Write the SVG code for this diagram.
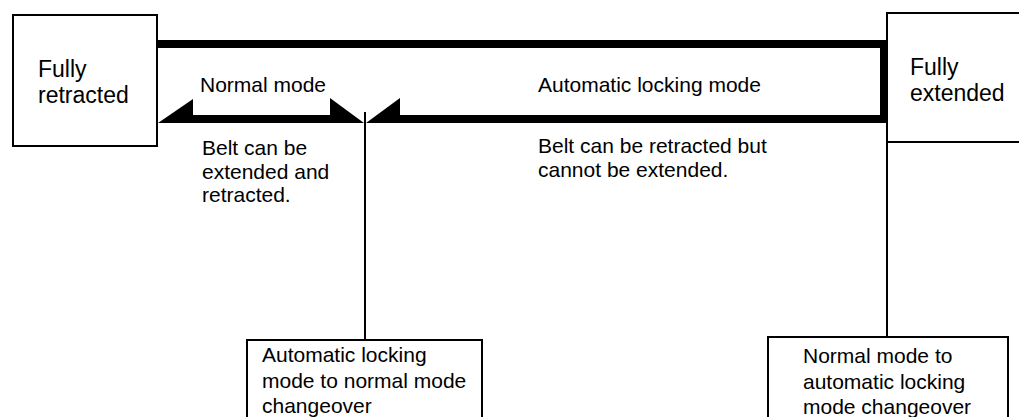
<svg xmlns="http://www.w3.org/2000/svg" width="1019" height="417" viewBox="0 0 1019 417">
<style>
  .box { fill: #fff; stroke: #000; stroke-width: 2; }
  .t { font-family: "Liberation Sans", Arial, sans-serif; font-size: 21px; fill: #000; }
  .tl { font-family: "Liberation Sans", Arial, sans-serif; font-size: 23px; fill: #000; }
  .thick { fill: none; stroke: #000; stroke-width: 8; stroke-linejoin: miter; }
  .thin { fill: none; stroke: #000; stroke-width: 2; }
  .head { fill: #000; stroke: none; }
</style>
<rect width="1019" height="417" fill="#fff"/>
<g id="connectors">
  <path class="thick" d="M158,44 H884 V119 H400"/>
  <path class="thick" d="M193,119 H330"/>
  <polygon class="head" points="158,123 193,99 193,123"/>
  <polygon class="head" points="330,98 364,123 330,123"/>
  <polygon class="head" points="400,98 366,123 400,123"/>
  <line class="thin" x1="365" y1="112" x2="365" y2="340"/>
  <line class="thin" x1="887" y1="142" x2="887" y2="337"/>
</g>
<g id="fully-retracted">
  <rect class="box" x="13" y="15" width="144" height="131"/>
  <text class="tl" x="38" y="77">Fully</text>
  <text class="tl" x="38" y="103">retracted</text>
</g>
<g id="fully-extended">
  <rect class="box" x="887" y="13" width="150" height="129"/>
  <text class="tl" x="910" y="75">Fully</text>
  <text class="tl" x="910" y="101">extended</text>
</g>
<g id="normal-mode-label">
  <text class="t" x="200" y="92">Normal mode</text>
  <text class="t" x="202" y="155">Belt can be</text>
  <text class="t" x="202" y="179">extended and</text>
  <text class="t" x="202" y="202">retracted.</text>
</g>
<g id="auto-locking-label">
  <text class="t" x="538" y="92">Automatic locking mode</text>
  <text class="t" x="538" y="153">Belt can be retracted but</text>
  <text class="t" x="538" y="177">cannot be extended.</text>
</g>
<g id="auto-to-normal">
  <rect class="box" x="247" y="340" width="235" height="90"/>
  <text class="t" x="262" y="362">Automatic locking</text>
  <text class="t" x="262" y="388">mode to normal mode</text>
  <text class="t" x="262" y="413">changeover</text>
</g>
<g id="normal-to-auto">
  <rect class="box" x="768" y="337" width="240" height="90"/>
  <text class="t" x="803" y="363">Normal mode to</text>
  <text class="t" x="803" y="389">automatic locking</text>
  <text class="t" x="803" y="414">mode changeover</text>
</g>
</svg>
